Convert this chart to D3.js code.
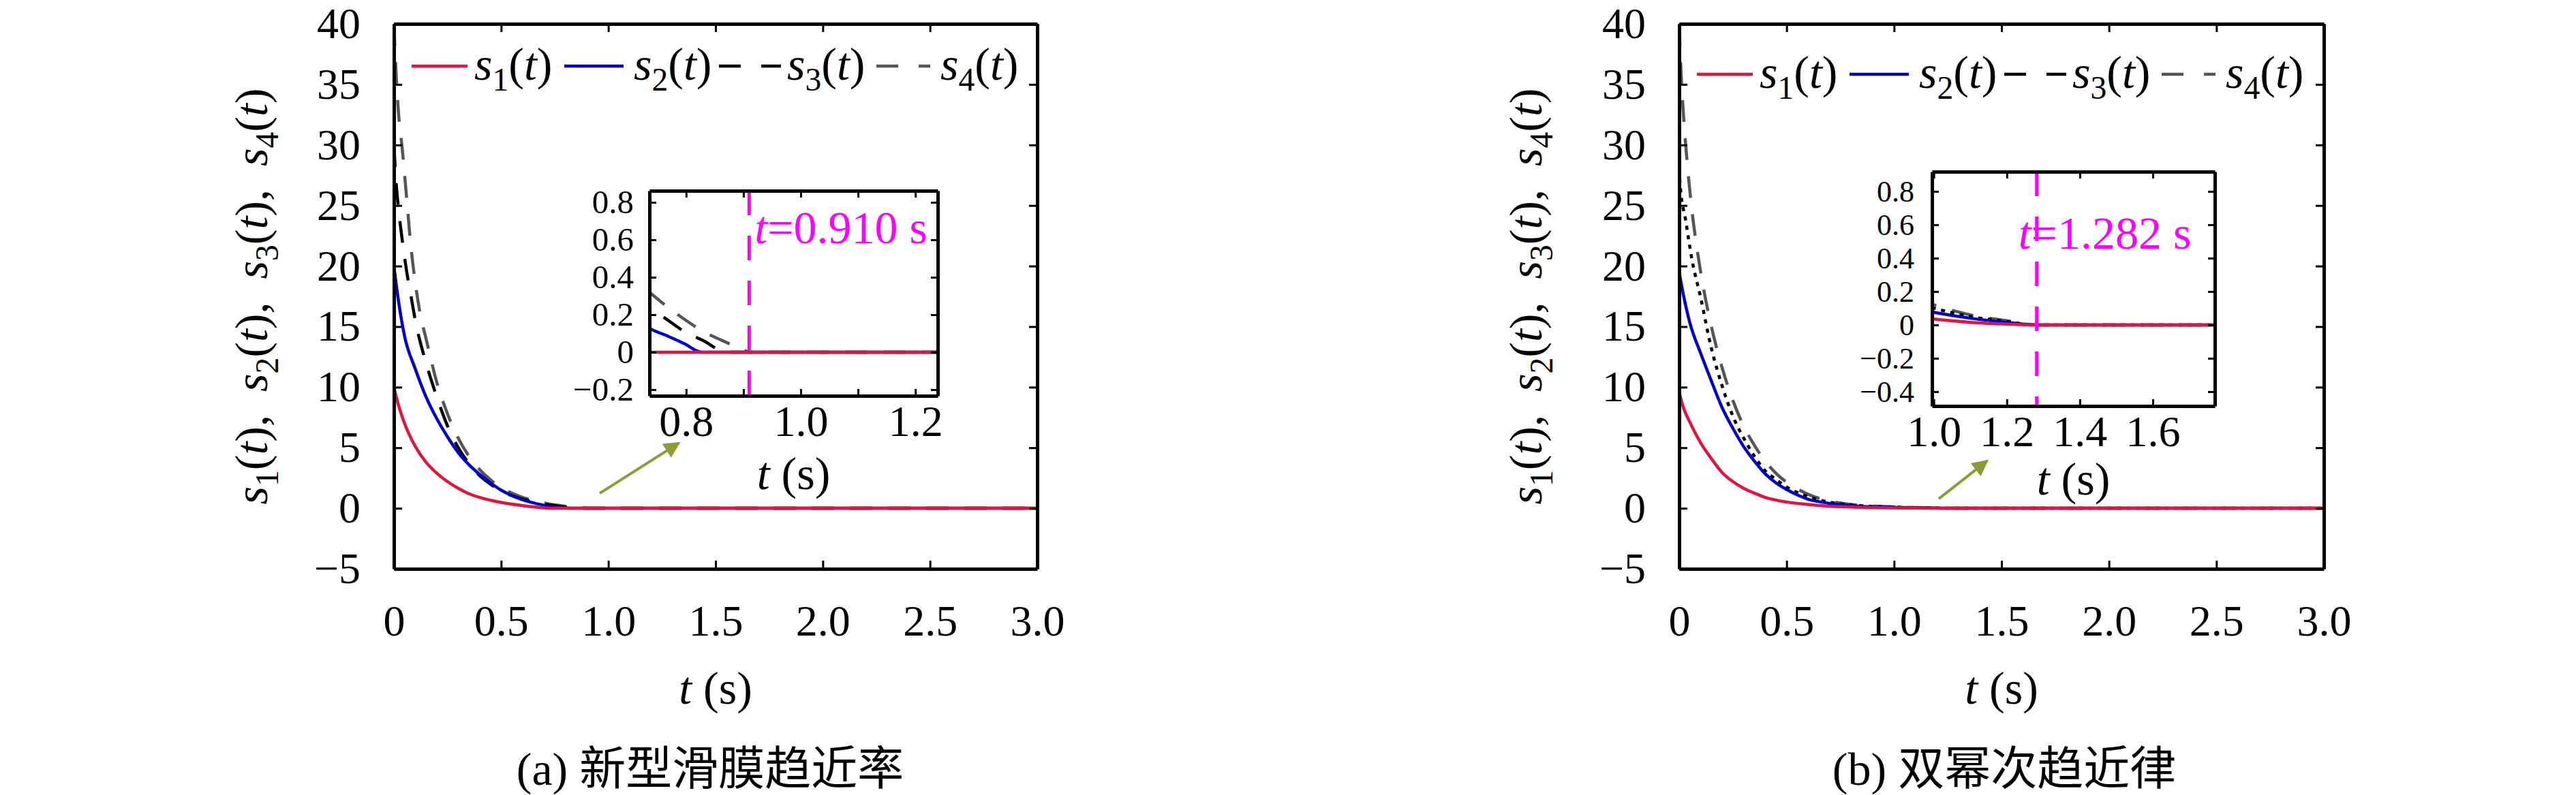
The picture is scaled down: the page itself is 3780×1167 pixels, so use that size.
<!DOCTYPE html>
<html><head><meta charset="utf-8">
<script src="https://cdn.jsdelivr.net/npm/d3@7/dist/d3.min.js"></script>
<style>body{margin:0;background:#fff}svg{display:block}</style>
</head><body>
<script>
// ---------------- DATA ----------------
// Panel (a) 新型滑膜趋近率
const tA1 = [0,0.02,0.05,0.1,0.15,0.2,0.25,0.3,0.35,0.4,0.5,0.6,0.65,0.7,0.73,3.0];
const vA1 = [10,8.6,7.0,5.1,3.8,2.9,2.2,1.65,1.2,0.9,0.48,0.22,0.12,0.04,0,0];
const tA2 = [0,0.02,0.05,0.1,0.15,0.2,0.25,0.3,0.35,0.4,0.45,0.5,0.55,0.6,0.65,0.7,0.733,0.765,0.797,0.827,3.0];
const vA2 = [20,17.3,14.2,11.5,9.2,7.4,5.9,4.6,3.6,2.8,2.1,1.5,1.05,0.7,0.45,0.25,0.135,0.09,0.045,0,0];
const tA3 = [0,0.01,0.02,0.04,0.06,0.08,0.1,0.15,0.2,0.25,0.3,0.35,0.4,0.45,0.5,0.55,0.6,0.65,0.7,0.733,0.765,0.797,0.83,0.87,3.0];
const vA3 = [30,27,25,22,19.5,17.5,15.5,12,9.2,6.8,5.0,3.7,2.7,2.0,1.45,1.05,0.75,0.52,0.34,0.244,0.178,0.11,0.062,0,0];
const tA4 = [0,0.01,0.02,0.04,0.06,0.08,0.1,0.12,0.15,0.2,0.25,0.3,0.35,0.4,0.45,0.5,0.55,0.6,0.65,0.7,0.733,0.762,0.795,0.827,0.863,0.896,0.91,3.0];
const vA4 = [40,36,33,29.5,25.5,21.5,18.6,16.3,14,10.4,7.8,5.8,4.3,3.2,2.35,1.7,1.25,0.9,0.65,0.45,0.33,0.255,0.18,0.116,0.062,0.018,0,0];

// Panel (b) 双幂次趋近律
const tB1 = [0,0.02,0.05,0.1,0.15,0.2,0.25,0.3,0.35,0.4,0.5,0.6,0.7,0.8,0.9,1.0,1.1,1.2,1.28,3.0];
const vB1 = [9.6,8.3,7.1,5.4,4.1,2.95,2.2,1.65,1.25,0.9,0.52,0.32,0.18,0.1,0.06,0.035,0.015,0.005,0,0];
const tB2 = [0,0.02,0.05,0.1,0.15,0.2,0.25,0.3,0.35,0.4,0.45,0.5,0.55,0.6,0.65,0.7,0.8,0.9,1.0,1.1,1.2,1.28,3.0];
const vB2 = [19.5,17.6,15.3,12.8,10.5,8.3,6.6,5.1,3.9,2.85,2.1,1.55,1.1,0.75,0.55,0.4,0.22,0.12,0.075,0.04,0.015,0,0];
const tB3 = [0,0.005,0.03,0.06,0.1,0.15,0.2,0.25,0.3,0.35,0.4,0.45,0.5,0.55,0.6,0.7,0.8,0.9,1.0,1.1,1.2,1.28,3.0];
const vB3 = [28,26.6,23.8,20.5,17.4,13.2,10.1,7.6,5.8,4.3,3.1,2.4,1.75,1.3,0.95,0.5,0.27,0.16,0.1,0.05,0.02,0,0];
const tB4 = [0,0.01,0.02,0.04,0.06,0.08,0.1,0.15,0.2,0.25,0.3,0.35,0.4,0.45,0.5,0.55,0.6,0.7,0.8,0.9,1.0,1.1,1.2,1.28,3.0];
const vB4 = [40,35.5,32.5,28,24.5,21.8,19.5,15,11.6,8.9,6.8,5.2,3.9,2.9,2.15,1.6,1.15,0.6,0.32,0.19,0.12,0.06,0.025,0,0];

// Ticks
const mainXTicks = [0,0.5,1.0,1.5,2.0,2.5,3.0];
const mainYTicks = [-5,0,5,10,15,20,25,30,35,40];
const insetAXTicks = [0.8,0.9,1.0,1.1,1.2];
const insetAXLabels = [0.8,1.0,1.2];
const insetAYTicks = [-0.2,0,0.2,0.4,0.6,0.8];
const insetBXTicks = [1.0,1.2,1.4,1.6];
const insetBYTicks = [-0.4,-0.2,0,0.2,0.4,0.6,0.8];

const seriesNames = ["1","2","3","4"];
const captions = ["(a) 新型滑膜趋近率","(b) 双幂次趋近律"];
const tStars = [0.910, 1.282];

// ---------------- STYLE / LAYOUT ----------------
const COLORS = ["#e3123e","#0000cc","#000000","#555555"];
const SERIF = "'Liberation Serif','DejaVu Serif',serif";
const CJK = "'Liberation Serif','Noto Sans CJK SC',serif";
const W = 3780, H = 1167;

const panels = [
  {
    data: [[tA1,vA1],[tA2,vA2],[tA3,vA3],[tA4,vA4]],
    dashes: [null,null,"32,24","32,24"],
    left:578, right:1522, top:35, bottom:835, ylabX:372, legendY:97, capX:1042,
    inset:{left:953,right:1376,top:280,bottom:581,xd:[0.736,1.239],yd:[-0.233,0.862],
           xt:insetAXTicks, xl:insetAXLabels, yt:insetAYTicks, ygap:23, xlabBase:137,
           yfs:49, starDx:8, starY:357},
    arrow:[[0.96,1.24],[1.33,5.4]],
    caption: captions[0], tStar: tStars[0]
  },
  {
    data: [[tB1,vB1],[tB2,vB2],[tB3,vB3],[tB4,vB4]],
    dashes: [null,null,"6,8","32,24"],
    left:2464, right:3410, top:35, bottom:835, ylabX:2242, legendY:109, capX:2941,
    inset:{left:2835,right:3250,top:252,bottom:596,xd:[0.995,1.77],yd:[-0.486,0.918],
           xt:insetBXTicks, xl:insetBXTicks, yt:insetBYTicks, ygap:26, xlabBase:130,
           yfs:44, starDx:-27, starY:365},
    arrow:[[1.208,0.79],[1.434,3.93]],
    caption: captions[1], tStar: tStars[1]
  }
];

const svg = d3.select("body").append("svg").attr("width",W).attr("height",H)
  .style("background","#fff");
const defs = svg.append("defs");
defs.append("marker").attr("id","arrowhead").attr("viewBox","0 0 10 10")
  .attr("refX",9).attr("refY",5).attr("markerWidth",7).attr("markerHeight",6)
  .attr("markerUnits","strokeWidth").attr("orient","auto")
  .append("path").attr("d","M0,0 L10,5 L0,10 z").attr("fill","#8e9a36");

function fmt(v){ if (Math.abs(v)<1e-9) return "0"; const s = (Math.round(v*10)/10).toFixed(1); return s.replace("-","\u2212"); }
function fmtInt(v){ return String(v).replace("-","\u2212"); }

function rich(parent, tokens, fs){
  const txt = parent.append("text").attr("font-size",fs).attr("font-family",SERIF).attr("fill","#000");
  let shift = 0;
  tokens.forEach(([k,s])=>{
    const ts = txt.append("tspan").text(s).attr("xml:space","preserve");
    if (k==="i") ts.attr("font-style","italic");
    if (k==="sub"){ ts.attr("font-size",fs*0.7).attr("dy",fs*0.24); shift = fs*0.24; }
    else if (shift){ ts.attr("dy",-shift); shift = 0; }
  });
  return txt;
}
const sTok = n => [["i","s"],["sub",n],["n","("],["i","t"],["n",")"]];

function styleAxis(g, fs){
  g.attr("font-family",SERIF).attr("font-size",fs);
  g.selectAll(".domain").attr("stroke","#000").attr("stroke-width",5);
  g.selectAll(".tick line").attr("stroke","#000").attr("stroke-width",3);
  g.selectAll(".tick text").attr("fill","#000");
}

panels.forEach((P,pi)=>{
  const g = svg.append("g");
  const x = d3.scaleLinear().domain([0,3]).range([P.left,P.right]);
  const y = d3.scaleLinear().domain([-5,40]).range([P.bottom,P.top]);
  const clipId = "clip"+pi;
  defs.append("clipPath").attr("id",clipId).append("rect")
    .attr("x",P.left).attr("y",P.top).attr("width",P.right-P.left).attr("height",P.bottom-P.top);

  // curves
  const line = d3.line().x(d=>x(d[0])).y(d=>y(d[1])).curve(d3.curveMonotoneX);
  const cg = g.append("g").attr("clip-path",`url(#${clipId})`);
  [3,2,1,0].forEach(si=>{
    const [ts,vs] = P.data[si];
    cg.append("path").datum(ts.map((t,i)=>[t,vs[i]]))
      .attr("d",line).attr("fill","none").attr("stroke",COLORS[si])
      .attr("stroke-width",4.5).attr("stroke-dasharray",P.dashes[si]);
  });

  // axes (inward ticks, mirrored)
  const fs = 64;
  const ax = g.append("g").attr("transform",`translate(0,${P.bottom})`)
    .call(d3.axisBottom(x).tickValues(mainXTicks).tickSizeInner(-12).tickSizeOuter(0).tickPadding(53).tickFormat(fmt));
  styleAxis(ax,fs);
  const axT = g.append("g").attr("transform",`translate(0,${P.top})`)
    .call(d3.axisTop(x).tickValues(mainXTicks).tickSizeInner(-12).tickSizeOuter(0).tickFormat(""));
  styleAxis(axT,fs);
  const ay = g.append("g").attr("transform",`translate(${P.left},0)`)
    .call(d3.axisLeft(y).tickValues(mainYTicks).tickSizeInner(-12).tickSizeOuter(0).tickPadding(49).tickFormat(fmtInt));
  styleAxis(ay,fs);
  const ayR = g.append("g").attr("transform",`translate(${P.right},0)`)
    .call(d3.axisRight(y).tickValues(mainYTicks).tickSizeInner(-12).tickSizeOuter(0).tickFormat(""));
  styleAxis(ayR,fs);

  // legend
  const legItems = [
    {l1:26,l2:108,tx:118},{l1:250,l2:337,tx:352},{l1:477,l2:568,tx:577},{l1:708,l2:787,tx:802}
  ];
  const legDash = [null,null,"32,30","32,30"];
  legItems.forEach((it,i)=>{
    g.append("line").attr("x1",P.left+it.l1).attr("x2",P.left+it.l2)
      .attr("y1",P.legendY).attr("y2",P.legendY)
      .attr("stroke",COLORS[i]).attr("stroke-width",4.5).attr("stroke-dasharray",legDash[i]);
    rich(g, sTok(seriesNames[i]), 68).attr("x",P.left+it.tx).attr("y",P.legendY+20);
  });

  // y label
  const yl = g.append("g").attr("transform",`translate(${P.ylabX},${(P.top+P.bottom)/2}) rotate(-90)`);
  const ytoks = [];
  seriesNames.forEach((n,i)=>{ sTok(n).forEach(t=>ytoks.push(t)); if(i<3) ytoks.push(["n",",\u2002"]); });
  rich(yl, ytoks, 68).attr("text-anchor","middle").attr("y",20);

  // x label
  rich(g, [["i","t"],["n"," (s)"]], 68).attr("text-anchor","middle")
    .attr("x",(P.left+P.right)/2).attr("y",1033);

  // caption
  g.append("text").attr("x",P.capX).attr("y",1152).attr("text-anchor","middle")
    .attr("font-family",CJK).attr("font-size",68).attr("fill","#000").text(P.caption);

  // arrow
  g.append("line").attr("x1",x(P.arrow[0][0])).attr("y1",y(P.arrow[0][1]))
    .attr("x2",x(P.arrow[1][0])).attr("y2",y(P.arrow[1][1]))
    .attr("stroke","#8e9a36").attr("stroke-width",4).attr("marker-end","url(#arrowhead)");

  // inset
  const I = P.inset;
  const xi = d3.scaleLinear().domain(I.xd).range([I.left,I.right]);
  const yi = d3.scaleLinear().domain(I.yd).range([I.bottom,I.top]);
  const ig = g.append("g");
  ig.append("rect").attr("x",I.left).attr("y",I.top).attr("width",I.right-I.left)
    .attr("height",I.bottom-I.top).attr("fill","#fff");
  const clipI = "clipI"+pi;
  defs.append("clipPath").attr("id",clipI).append("rect")
    .attr("x",I.left).attr("y",I.top).attr("width",I.right-I.left).attr("height",I.bottom-I.top);
  const lineI = d3.line().x(d=>xi(d[0])).y(d=>yi(d[1])).curve(d3.curveMonotoneX);
  const icg = ig.append("g").attr("clip-path",`url(#${clipI})`);
  [3,2,1,0].forEach(si=>{
    const [ts,vs] = P.data[si];
    icg.append("path").datum(ts.map((t,i)=>[t,vs[i]]))
      .attr("d",lineI).attr("fill","none").attr("stroke",COLORS[si])
      .attr("stroke-width",4.5).attr("stroke-dasharray",P.dashes[si]);
  });
  icg.append("line").attr("x1",xi(P.tStar)).attr("x2",xi(P.tStar))
    .attr("y1",I.top).attr("y2",I.bottom).attr("stroke","#ff00ff")
    .attr("stroke-width",5).attr("stroke-dasharray","36,30");

  const iax = ig.append("g").attr("transform",`translate(0,${I.bottom})`)
    .call(d3.axisBottom(xi).tickValues(I.xt).tickSizeInner(-10).tickSizeOuter(0).tickPadding(14)
      .tickFormat(v=>I.xl.some(l=>Math.abs(l-v)<1e-9)?fmt(v):""));
  styleAxis(iax,fs);
  const iaxT = ig.append("g").attr("transform",`translate(0,${I.top})`)
    .call(d3.axisTop(xi).tickValues(I.xt).tickSizeInner(-10).tickSizeOuter(0).tickFormat(""));
  styleAxis(iaxT,fs);
  const iay = ig.append("g").attr("transform",`translate(${I.left},0)`)
    .call(d3.axisLeft(yi).tickValues(I.yt).tickSizeInner(-10).tickSizeOuter(0).tickPadding(I.ygap).tickFormat(fmt));
  styleAxis(iay,I.yfs);
  const iayR = ig.append("g").attr("transform",`translate(${I.right},0)`)
    .call(d3.axisRight(yi).tickValues(I.yt).tickSizeInner(-10).tickSizeOuter(0).tickFormat(""));
  styleAxis(iayR,fs);

  // inset x label
  rich(ig, [["i","t"],["n"," (s)"]], 68).attr("text-anchor","middle")
    .attr("x",(I.left+I.right)/2).attr("y",I.bottom+I.xlabBase);

  // t* annotation
  rich(ig, [["i","t"],["n","="+P.tStar.toFixed(3)+" s"]], 68)
    .attr("x",xi(P.tStar)+I.starDx).attr("y",I.starY).attr("fill","#ff00ff");
});
</script>
</body></html>
